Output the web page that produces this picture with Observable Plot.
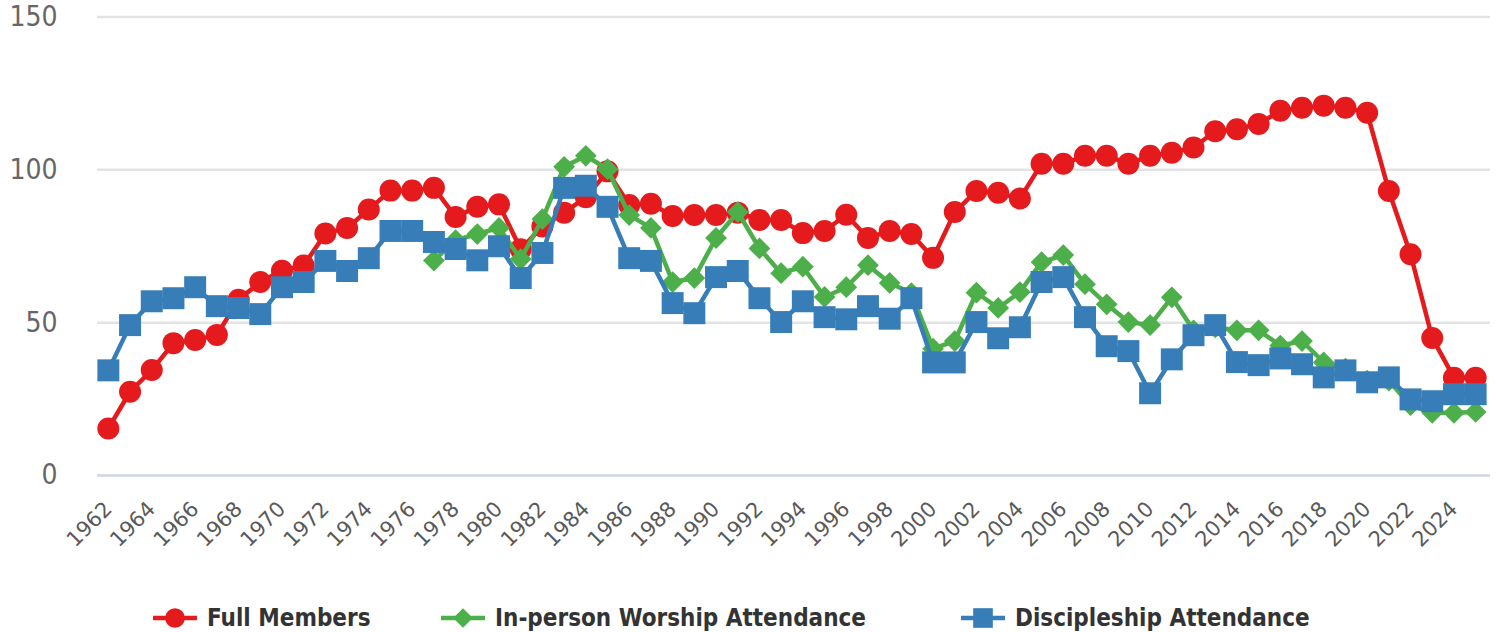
<!DOCTYPE html>
<html>
<head>
<meta charset="utf-8">
<script src="https://cdn.jsdelivr.net/npm/d3@7"></script>
<script src="https://cdn.jsdelivr.net/npm/@observablehq/plot@0.6"></script>
<style>
  html, body { margin: 0; padding: 0; background: #fff; }
  #wrap { position: relative; width: 1497px; height: 632px; }
  #legend { position: absolute; left: 0; top: 0; width: 1497px; height: 632px; pointer-events: none; }
  .item { position: absolute; top: 603px; height: 30px; display: flex; align-items: center;
          font-family: "DejaVu Sans Condensed", "DejaVu Sans", sans-serif; font-weight: bold;
          font-size: 24px; color: #333; white-space: nowrap; }
  .item svg { margin-right: 10px; }
</style>
</head>
<body>
<div id="wrap"><div id="chart"></div><div id="legend"></div></div>
<script>
const years = [1962,1963,1964,1965,1966,1967,1968,1969,1970,1971,
  1972,1973,1974,1975,1976,1977,1978,1979,1980,1981,
  1982,1983,1984,1985,1986,1987,1988,1989,1990,1991,
  1992,1993,1994,1995,1996,1997,1998,1999,2000,2001,
  2002,2003,2004,2005,2006,2007,2008,2009,2010,2011,
  2012,2013,2014,2015,2016,2017,2018,2019,2020,2021,
  2022,2023,2024,2025];

const fullMembers = [15.4,27.4,34.5,43.3,44.3,46,57.5,63.3,67,68.7,
  79.2,81,87,93.2,93.2,94.1,84.6,87.9,88.7,74,
  81.5,86,91,99.5,88.5,88.9,84.9,85.2,85.2,86,
  83.6,83.6,79.3,80,85.3,77.7,80,79,71.2,86.2,
  93.1,92.5,90.6,102,102,104.6,104.6,102,104.6,105.6,
  107.3,112.6,113.3,115,119.3,120.3,121,120.3,118.7,93.1,
  72.4,45,32,32];

// In-person worship attendance: no data before 1977
const worship = [null,null,null,null,null,null,null,null,null,null,
  null,null,null,null,null,70.3,77,79,81,70.8,
  83.9,101,104.6,100.2,85.2,81,63.3,64.6,77.7,86.2,
  74.3,66.2,68.3,58.4,61.6,68.8,63,59.7,41.5,44,
  59.8,54.8,60,69.8,72.1,62.6,56,50.2,49.2,58.3,
  47.5,48.5,47.5,47.5,42.5,44,37,35,31,31,
  23,20.5,20.5,20.8];

const discipleship = [34.4,49.2,57,58,61.6,55.4,54.8,52.8,61.6,63.3,
  70.2,66.9,71.1,80,80,76.4,74.1,70.4,75,64.6,
  72.8,94.1,94.8,87.9,71.1,70.2,56.4,53.1,64.9,66.9,
  58,50.2,57,51.8,51.1,55.4,51.3,58,37,37,
  50.2,44.9,48.5,63.3,64.9,51.8,42.3,40.7,26.9,38,
  45.9,49.2,37.1,36.1,38.3,36.4,32.1,34.4,30.5,32.1,
  24.9,24.3,26.6,26.6];

const xTicks = [1962,1964,1966,1968,1970,1972,1974,1976,1978,1980,1982,1984,1986,1988,1990,
  1992,1994,1996,1998,2000,2002,2004,2006,2008,2010,2012,2014,2016,2018,2020,2022,2024];
const yTicks = [0,50,100,150];
const gridTicks = [50,100,150];

const seriesNames = ["Full Members","In-person Worship Attendance","Discipleship Attendance"];
const seriesColors = ["#e41a1c","#4daf4a","#377eb8"];
const seriesSymbols = ["circle","diamond2","square"];
const seriesR = [11, 9.8, 12.4];
const seriesValues = [fullMembers, worship, discipleship];

const series = seriesValues.map((vals, k) =>
  years.map((y, i) => ({year: y, value: vals[i]})));

const marks = [
  Plot.gridY(gridTicks, {stroke: "#e3e3e3", strokeOpacity: 1, strokeWidth: 2.5}),
  Plot.ruleY([0], {stroke: "#cdd5e6", strokeWidth: 2.5}),
  Plot.axisY(yTicks, {tickSize: 0, tickPadding: 40, fontSize: 28, fill: "#666",
    fontFamily: "DejaVu Sans Condensed", label: null}),
  Plot.axisX(xTicks, {tickSize: 0, tickRotate: -45, tickPadding: 30, fontSize: 21, fill: "#595959",
    fontFamily: "DejaVu Sans", tickFormat: d => String(d), label: null})
];
series.forEach((data, k) => {
  marks.push(Plot.line(data.filter(d => d.value != null), {x: "year", y: "value",
    stroke: seriesColors[k], strokeWidth: 4.5, strokeLinejoin: "round"}));
  marks.push(Plot.dot(data.filter(d => d.value != null), {x: "year", y: "value",
    symbol: seriesSymbols[k], r: seriesR[k], fill: seriesColors[k], stroke: "none"}));
});

const chart = Plot.plot({
  width: 1497,
  height: 580,
  marginLeft: 97,
  marginRight: 7,
  marginTop: 16.5,
  marginBottom: 105,
  style: {fontFamily: "DejaVu Sans Condensed", background: "white", overflow: "visible"},
  x: {type: "linear", domain: [1961.5, 2025.5], range: [97, 1486], axis: null},
  y: {domain: [0, 150], axis: null},
  marks
});
document.getElementById("chart").appendChild(chart);

// Legend
const legendLeft = [153, 441, 961];
const legend = document.getElementById("legend");
seriesNames.forEach((name, k) => {
  const div = document.createElement("div");
  div.className = "item";
  div.style.left = legendLeft[k] + "px";
  const sym = d3.symbol(k === 0 ? d3.symbolCircle : k === 1 ? d3.symbolDiamond2 : d3.symbolSquare,
    Math.PI * seriesR[k] * seriesR[k] * 0.8)();
  div.innerHTML = `<svg width="44" height="26" viewBox="0 0 44 26">
    <line x1="0" x2="44" y1="13" y2="13" stroke="${seriesColors[k]}" stroke-width="4.5"/>
    <path d="${sym}" transform="translate(22,13)" fill="${seriesColors[k]}"/></svg><span>${name}</span>`;
  legend.appendChild(div);
});
</script>
</body>
</html>
